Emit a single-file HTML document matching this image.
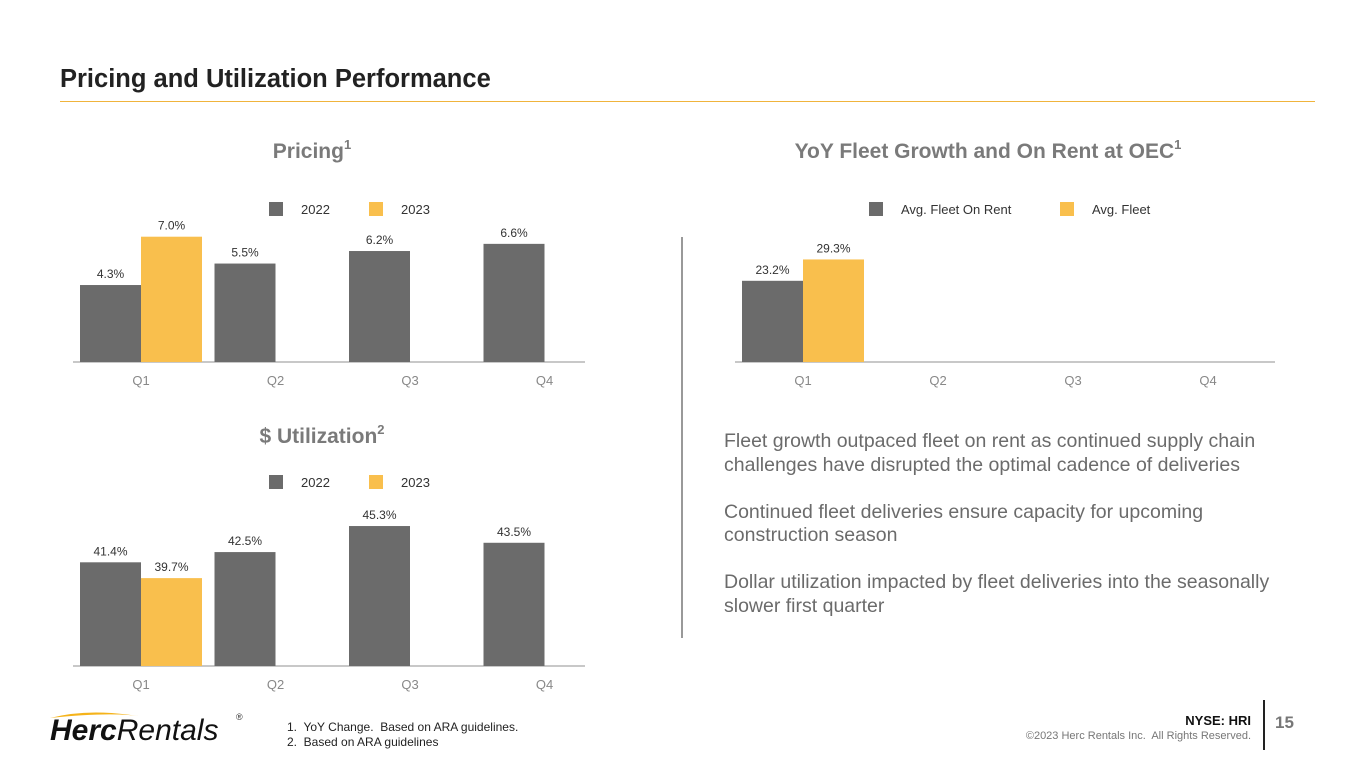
<!DOCTYPE html>
<html><head><meta charset="utf-8">
<style>
body{margin:0;width:1365px;height:769px;background:#fff;font-family:"Liberation Sans",sans-serif;position:relative;overflow:hidden}
.abs{position:absolute}
svg text{font-family:"Liberation Sans",sans-serif}
</style></head>
<body>
<div class="abs" style="left:60px;top:65px;font-size:25.5px;font-weight:bold;color:#222">Pricing and Utilization Performance</div>
<div class="abs" style="left:60px;top:101px;width:1255px;height:1px;background:#f0b43c"></div>
<div class="abs" style="left:681px;top:237px;width:2px;height:401px;background:#999"></div>

<svg class="abs" style="left:0;top:0" width="1365" height="769" id="charts"></svg>

<div class="abs" style="left:724px;top:430px;font-size:19.5px;line-height:23.5px;color:#6b6b6b;width:565px">
Fleet growth outpaced fleet on rent as continued supply chain challenges have disrupted the optimal cadence of deliveries<br><br>
Continued fleet deliveries ensure capacity for upcoming construction season<br><br>
Dollar utilization impacted by fleet deliveries into the seasonally slower first quarter</div>

<div class="abs" style="left:48px;top:708px;width:200px;height:40px">
<svg width="200" height="40" style="position:absolute;left:0;top:0"><path d="M2 10 Q40 0 90 8 Q60 4 2 10Z" fill="#f5b31a"/></svg>
<span style="position:absolute;left:2px;top:6px;font-size:30px;font-style:italic;color:#111"><b>Herc</b>Rentals</span>
<span style="position:absolute;left:188px;top:4px;font-size:9px;color:#333">®</span>
</div>
<div class="abs" style="left:287px;top:720px;font-size:12px;line-height:15px;color:#222">1.&nbsp; YoY Change.&nbsp; Based on ARA guidelines.<br>2.&nbsp; Based on ARA guidelines</div>
<div class="abs" style="left:1100px;top:713px;width:151px;text-align:right;font-size:13px;font-weight:bold;color:#111">NYSE: HRI</div>
<div class="abs" style="left:950px;top:730px;width:301px;text-align:right;font-size:11px;color:#777">©2023 Herc Rentals Inc.&nbsp; All Rights Reserved.</div>
<div class="abs" style="left:1263px;top:700px;width:2px;height:50px;background:#222"></div>
<div class="abs" style="left:1275px;top:713px;font-size:17px;font-weight:bold;color:#777">15</div>

<script>
const categories=["Q1","Q2","Q3","Q4"];
const pricing2022=[4.3,5.5,6.2,6.6];
const pricing2023=[7.0,null,null,null];
const util2022=[41.4,42.5,45.3,43.5];
const util2023=[39.7,null,null,null];
const fleetOnRent=[23.2,null,null,null];
const fleetAvg=[29.3,null,null,null];

const NS="http://www.w3.org/2000/svg";
const svg=document.getElementById('charts');
function mk(tag,attrs,parent){const e=document.createElementNS(NS,tag);for(const k in attrs)e.setAttribute(k,attrs[k]);(parent||svg).appendChild(e);return e;}
function txt(x,y,s,size,fill,anchor,weight){const t=mk('text',{x:x,y:y,'font-size':size,fill:fill,'text-anchor':anchor||'middle','font-weight':weight||'normal'});t.textContent=s;return t;}

function chart(cfg){
  const g=mk('g',{});
  
  
  const yScale=v=>cfg.base-(v-cfg.min)*cfg.ppu;
  const t=txt(cfg.titleX,cfg.titleY,cfg.title,21,'#7a7a7a','middle','bold');
  
  
  const sup=mk('tspan',{dy:-9,'font-size':13});sup.textContent=cfg.sup;t.appendChild(sup);
  cfg.legend.forEach((l,i)=>{
    const r=mk('rect',{x:l.x,y:cfg.legY-7,width:14,height:14,fill:l.c},g);
    
    
    const lt=txt(l.x+32,cfg.legY+5,l.t,13,'#333','start');
    
    
  });
  const line=mk('line',{x1:cfg.x0,x2:cfg.x1,y1:cfg.base,y2:cfg.base,stroke:'#c8c8c8','stroke-width':2},g);
  
  
  const bw=61;
  categories.forEach((c,i)=>{
    const gx=cfg.x0+7+i*cfg.cw;
    [cfg.s1,cfg.s2].forEach((s,j)=>{
      const v=s[i]; if(v==null) return;
      const y=yScale(v);
      const r=mk('rect',{x:gx+j*bw,y:y,width:bw,height:cfg.base-y,fill:j?'#f9bf4d':'#6b6b6b'},g);
      
      
      const lb=txt(gx+j*bw+bw/2,y-7,v.toFixed(1)+'%',12,'#333');
      
      
    });
    const ct=txt(gx+bw,cfg.base+23,c,13,'#888');
    
    
  });
}
chart({name:'pricing-chart',title:'Pricing',sup:'1',titleX:312,titleY:158,legY:209,
  legend:[{x:269,c:'#6b6b6b',t:'2022'},{x:369,c:'#f9bf4d',t:'2023'}],
  x0:73,x1:585,cw:134.5,base:362,min:0,ppu:17.9,s1:pricing2022,s2:pricing2023});
chart({name:'utilization-chart',title:'$ Utilization',sup:'2',titleX:322,titleY:443,legY:482,
  legend:[{x:269,c:'#6b6b6b',t:'2022'},{x:369,c:'#f9bf4d',t:'2023'}],
  x0:73,x1:585,cw:134.5,base:666,min:30.25,ppu:9.3,s1:util2022,s2:util2023});
chart({name:'fleet-chart',title:'YoY Fleet Growth and On Rent at OEC',sup:'1',titleX:988,titleY:158,legY:209,
  legend:[{x:869,c:'#6b6b6b',t:'Avg. Fleet On Rent'},{x:1060,c:'#f9bf4d',t:'Avg. Fleet'}],
  x0:735,x1:1275,cw:135,base:362,min:0,ppu:3.5,s1:fleetOnRent,s2:fleetAvg});
</script>
</body></html>
